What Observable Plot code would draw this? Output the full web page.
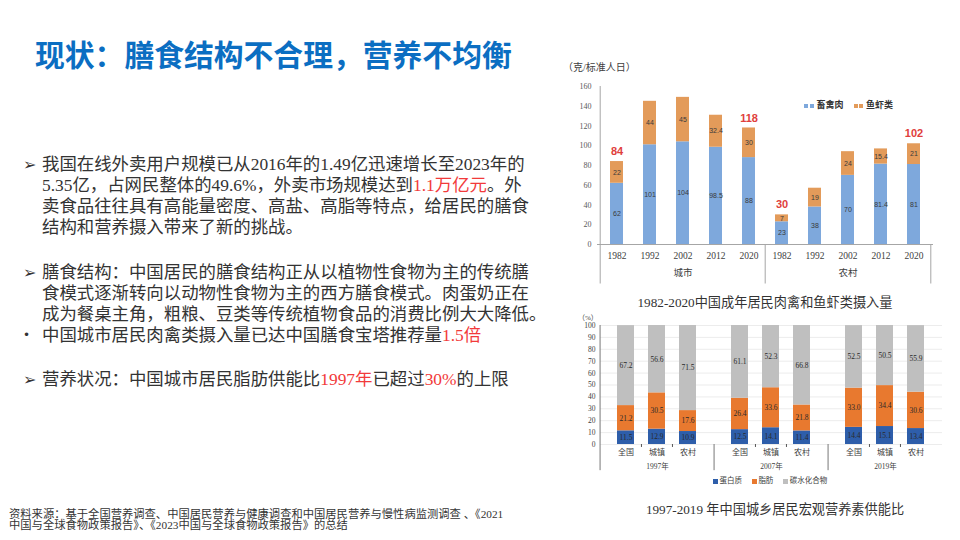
<!DOCTYPE html>
<html>
<head>
<meta charset="utf-8">
<script src="https://cdn.jsdelivr.net/npm/d3@7"></script>
<script src="https://cdn.jsdelivr.net/npm/@observablehq/plot@0.6"></script>
<style>
  html, body { margin: 0; padding: 0; background: #fff; }
  #page { position: relative; width: 960px; height: 540px; overflow: hidden; background: #fff; }
  .abs { position: absolute; white-space: nowrap; }
  .serif { font-family: "Liberation Serif", "Noto Sans CJK SC", serif; }
  .body { font-size: 17.4px; line-height: 21px; color: #333; }
  .red { color: #F23A3A; }
  .bul { position: absolute; left: -20px; }
  #c1 [aria-label^="x-axis"] text { font-size: 9.5px; fill: #404040; }
  #c2 [aria-label^="x-axis"] text { font-size: 8px; fill: #404040; }
  .sq { display: inline-block; width: 4px; height: 4px; margin-right: 1.5px; vertical-align: middle; }
</style>
</head>
<body>
<div id="page">
  <div class="abs" style="left:35px;top:39px;font:700 29.8px/1 'Noto Sans CJK SC';color:#0B6EC2;">现状：膳食结构不合理，营养不均衡</div>

  <div class="abs serif body" style="left:42px;top:153.5px;">
    <span class="bul" style="font-family:'DejaVu Sans';font-size:16px;left:-19px;">➢</span>
    <div>我国在线外卖用户规模已从2016年的1.49亿迅速增长至2023年的</div>
    <div>5.35亿，占网民整体的49.6%，外卖市场规模达到<span class="red">1.1万亿元</span>。外</div>
    <div>卖食品往往具有高能量密度、高盐、高脂等特点，给居民的膳食</div>
    <div>结构和营养摄入带来了新的挑战。</div>
  </div>
  <div class="abs serif body" style="left:42px;top:261.5px;">
    <span class="bul" style="font-family:'DejaVu Sans';font-size:16px;left:-19px;">➢</span>
    <div>膳食结构：中国居民的膳食结构正从以植物性食物为主的传统膳</div>
    <div>食模式逐渐转向以动物性食物为主的西方膳食模式。肉蛋奶正在</div>
    <div>成为餐桌主角，粗粮、豆类等传统植物食品的消费比例大大降低。</div>
    <div style="position:relative"><span class="bul" style="font-family:'DejaVu Sans';font-size:12px;left:-19px;">•</span>中国城市居民肉禽类摄入量已达中国膳食宝塔推荐量<span class="red">1.5倍</span></div>
  </div>
  <div class="abs serif body" style="left:42px;top:368.5px;">
    <span class="bul" style="font-family:'DejaVu Sans';font-size:16px;left:-19px;">➢</span>
    <div>营养状况：中国城市居民脂肪供能比<span class="red">1997年</span>已超过<span class="red">30%</span>的上限</div>
  </div>

  <div class="abs serif" style="left:9px;top:509px;font-size:11.3px;line-height:10.8px;color:#333;">
    <div>资料来源：基于全国营养调查、中国居民营养与健康调查和中国居民营养与慢性病监测调查 、《2021</div>
    <div>中国与全球食物政策报告》、《2023中国与全球食物政策报告》的总结</div>
  </div>

  <div class="abs serif" style="left:563px;top:59px;font-size:10px;color:#404040;">（克/标准人日）</div>
  <div id="c1" class="abs" style="left:560px;top:75px;"></div>
  <div class="abs" style="left:804px;top:98px;font:700 9px 'Noto Sans CJK SC';color:#333;">
    <span class="sq" style="background:#7EA8DC"></span><span class="sq" style="background:#7EA8DC;margin-right:3px"></span>畜禽肉
    <span class="sq" style="background:#E39B5A;margin-left:8px"></span><span class="sq" style="background:#E39B5A;margin-right:3px"></span>鱼虾类
  </div>
  <div class="abs serif" style="left:560px;width:410px;text-align:center;top:292px;font-size:13.2px;color:#333;">1982-2020中国成年居民肉禽和鱼虾类摄入量</div>

  <div class="abs serif" style="left:578px;top:312px;font-size:7px;color:#404040;">（%）</div>
  <div id="c2" class="abs" style="left:570px;top:312px;"></div>
  <div class="abs serif" style="left:713px;top:474px;font-size:7.5px;color:#404040;">
    <span class="sq" style="background:#2E5EAA;width:5px;height:5px"></span>蛋白质
    <span class="sq" style="background:#E8792F;width:5px;height:5px;margin-left:8px"></span>脂肪
    <span class="sq" style="background:#BFBFBF;width:5px;height:5px;margin-left:8px"></span>碳水化合物
  </div>
  <div class="abs serif" style="left:570px;width:410px;text-align:center;top:499px;font-size:13.2px;color:#333;">1997-2019 年中国城乡居民宏观营养素供能比</div>
</div>

<script>
// ---------- Chart 1 data ----------
const groups1 = ["城市", "农村"];
const years1 = ["1982", "1992", "2002", "2012", "2020"];
const meatTypes = ["畜禽肉", "鱼虾类"];
const meat = [62, 101, 104, 98.5, 88, 23, 38, 70, 81.4, 81];
const fish = [22, 44, 45, 32.4, 30, 7, 19, 24, 15.4, 21];
const totalLabels = ["84", "", "", "", "118", "30", "", "", "", "102"];

// ---------- Chart 2 data ----------
const years2 = ["1997", "2007", "2019"];
const regions2 = ["全国", "城镇", "农村"];
const nutrients = ["蛋白质", "脂肪", "碳水化合物"];
const protein = [11.5, 12.9, 10.9, 12.5, 14.1, 11.4, 14.4, 15.1, 13.4];
const fat = [21.2, 30.5, 17.6, 26.4, 33.6, 21.8, 33.0, 34.4, 30.6];
const carb = [67.2, 56.6, 71.5, 61.1, 52.3, 66.8, 52.5, 50.5, 55.9];

// ---------- Chart 1 ----------
const keys1 = groups1.flatMap(g => years1.map(y => g + "|" + y));
const rows1 = keys1.flatMap((k, i) => [
  {key: k, type: meatTypes[0], value: meat[i]},
  {key: k, type: meatTypes[1], value: fish[i]}
]);
const totals1 = keys1.map((k, i) => ({key: k, t: totalLabels[i], v: meat[i] + fish[i]})).filter(d => d.t);

const W1 = 385, ML1 = 37, MR1 = 12;
const half1 = (W1 - ML1 - MR1) / keys1.length / 2;
const axisGray = "#a6a6a6";

const chart1 = Plot.plot({
  width: W1, height: 215,
  marginLeft: ML1, marginRight: MR1, marginTop: 11, marginBottom: 46,
  style: {fontFamily: "Liberation Serif, Noto Sans CJK SC, serif", fontSize: "8px", color: "#595959", background: "transparent"},
  x: {domain: keys1, paddingInner: 0.6, paddingOuter: 0.3, tickSize: 0, tickPadding: 8, tickFormat: d => d.split("|")[1], label: null},
  y: {domain: [0, 160], ticks: 8, tickSize: 0, tickPadding: 6, label: null},
  color: {domain: meatTypes, range: ["#7EA8DC", "#E39B5A"]},
  marks: [
    Plot.barY(rows1, {x: "key", y: "value", fill: "type"}),
    Plot.text(rows1, Plot.stackY({x: "key", y: "value", z: "type", text: d => String(d.value), fontSize: 7, fill: "#3a3a3a", fontFamily: "Liberation Sans"})),
    Plot.ruleY([0], {stroke: axisGray}),
    Plot.ruleX([keys1[0]], {y1: 160, y2: -40, dx: -half1, stroke: axisGray}),
    Plot.ruleX([keys1[5]], {y1: 0, y2: -40, dx: -half1, stroke: axisGray}),
    Plot.ruleX([keys1[9]], {y1: 0, y2: -40, dx: half1, stroke: axisGray}),
    Plot.text(totals1, {x: "key", y: "v", text: "t", dy: -10, fill: "#E0403C", fontWeight: "bold", fontSize: 11, fontFamily: "Liberation Sans"}),
    Plot.text(groups1, {x: d => d + "|" + years1[2], frameAnchor: "bottom", dy: 31, text: d => d, fontSize: 9.5, fill: "#404040", fontFamily: "Noto Sans CJK SC"})
  ]
});
document.getElementById("c1").appendChild(chart1);

// ---------- Chart 2 ----------
const rows2 = [];
years2.forEach((y, gi) => regions2.forEach((r, ri) => {
  const i = gi * regions2.length + ri;
  [protein[i], fat[i], carb[i]].forEach((v, ni) => rows2.push({year: y, region: r, nutrient: nutrients[ni], value: v}));
}));

const W2 = 380, ML2 = 30, MR2 = 8, PI2 = 0.45, PO2 = 0.56;
const facetW = (W2 - ML2 - MR2) / years2.length;
const step2 = facetW / (regions2.length - PI2 + 2 * PO2);
const off2 = step2 * PO2 + step2 * (1 - PI2) / 2;

const chart2 = Plot.plot({
  width: W2, height: 162,
  marginLeft: ML2, marginRight: MR2, marginTop: 13, marginBottom: 30,
  style: {fontFamily: "Liberation Serif, Noto Sans CJK SC, serif", fontSize: "7.5px", color: "#404040", background: "transparent"},
  facet: {data: rows2, x: "year"},
  fx: {domain: years2, padding: 0, axis: null, label: null},
  x: {domain: regions2, paddingInner: PI2, paddingOuter: PO2, tickSize: 0, tickPadding: 5, label: null},
  y: {domain: [0, 100], ticks: 10, grid: true, tickSize: 0, tickPadding: 5, label: null},
  color: {domain: nutrients, range: ["#2E5EAA", "#E8792F", "#BFBFBF"]},
  marks: [
    Plot.barY(rows2, {x: "region", y: "value", fill: "nutrient"}),
    Plot.text(rows2, Plot.stackY({x: "region", y: "value", z: "nutrient", text: d => d.value.toFixed(1), fontSize: 7.5, fill: "#2a2a2a"})),
    // group separators below the axis
    Plot.ruleX(rows2, Plot.selectFirst({x: () => regions2[0], y1: 0, y2: -22, dx: -off2, stroke: "#777"})),
    // left axis line (first facet only)
    Plot.ruleX(rows2, Plot.selectFirst({filter: d => d.year === years2[0], x: () => regions2[0], y1: 100, y2: 0, dx: -off2, stroke: "#777"})),
    // small ticks between bars
    Plot.ruleX(rows2, {filter: d => d.nutrient === nutrients[0] && d.region !== regions2[0], x: "region", y1: 0, y2: -2.5, dx: -step2 / 2, stroke: "#555"}),
    Plot.text(rows2, Plot.selectFirst({frameAnchor: "bottom", lineAnchor: "middle", dy: 22, text: d => d.year + "年", fontSize: 7.5, fill: "#404040"}))
  ]
});
document.getElementById("c2").appendChild(chart2);
</script>
</body>
</html>
